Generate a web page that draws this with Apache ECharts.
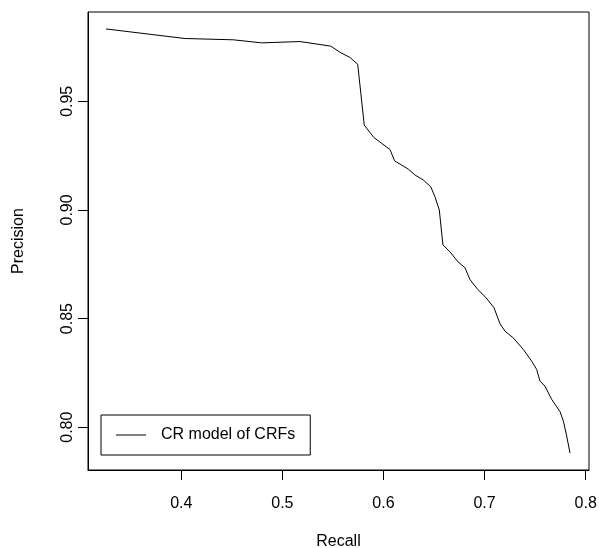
<!DOCTYPE html>
<html>
<head>
<meta charset="utf-8">
<script src="https://cdn.jsdelivr.net/npm/echarts@6/dist/echarts.min.js"></script>
<style>html,body{margin:0;padding:0;background:#fff}#c{width:599px;height:548px}</style>
</head>
<body>
<div id="c"></div>
<script>
var seriesName = 'CR model of CRFs';
var recall = [0.3255,0.4036,0.4514,0.4795,0.5174,0.5478,0.5579,0.5668,0.5745,0.5810,0.5906,0.6064,0.6110,0.6245,0.6311,0.6393,0.6467,0.6509,0.6552,0.6588,0.6658,0.6737,0.6806,0.6856,0.6935,0.7014,0.7093,0.7152,0.7202,0.7284,0.7383,0.7466,0.7515,0.7548,0.7597,0.7664,0.7746,0.7779,0.7812,0.7845];
var precision = [0.9833,0.9789,0.9783,0.9769,0.9775,0.9754,0.9723,0.9702,0.9670,0.9390,0.9333,0.9278,0.9226,0.9188,0.9161,0.9138,0.9107,0.9061,0.9000,0.8839,0.8807,0.8761,0.8734,0.8679,0.8633,0.8596,0.8550,0.8477,0.8442,0.8411,0.8358,0.8304,0.8266,0.8212,0.8189,0.8128,0.8072,0.8029,0.7960,0.7881];
var xTicks = [0.4,0.5,0.6,0.7,0.8];
var yTicks = [0.80,0.85,0.90,0.95];
var xTickLabels = ['0.4','0.5','0.6','0.7','0.8'];
var yTickLabels = ['0.80','0.85','0.90','0.95'];

var font = '"Liberation Sans", Arial, sans-serif';
var chart = echarts.init(document.getElementById('c'), null, {renderer:'canvas'});
var pts = recall.map(function(r,i){return [r, precision[i]];});
chart.setOption({
  animation:false,
  backgroundColor:'#fff',
  grid:{left:88,right:10,top:12,bottom:78,show:true,borderColor:'#000',borderWidth:1,backgroundColor:'transparent',
    containLabel:false,outerBoundsMode:'none'},
  xAxis:{type:'value',min:0.3077,max:0.8033,name:'Recall',nameLocation:'middle',nameGap:64,
    nameTextStyle:{fontFamily:font,fontSize:16,color:'#000'},
    axisLine:{show:true,lineStyle:{color:'#000',width:1}},
    axisTick:{show:true,inside:false,length:10,customValues:xTicks,lineStyle:{color:'#000'}},
    axisLabel:{show:true,margin:26,customValues:xTicks,fontFamily:font,fontSize:16,color:'#000',
      formatter:function(v){var i=xTicks.indexOf(v);return i>=0?xTickLabels[i]:'';}},
    splitLine:{show:false}},
  yAxis:{type:'value',min:0.7803,max:0.9911,name:'Precision',nameLocation:'middle',nameGap:61,nameRotate:90,
    nameTextStyle:{fontFamily:font,fontSize:16,color:'#000'},
    axisLine:{show:true,lineStyle:{color:'#000',width:1}},
    axisTick:{show:true,inside:false,length:10,customValues:yTicks,lineStyle:{color:'#000'}},
    axisLabel:{show:true,margin:12,rotate:90,customValues:yTicks,fontFamily:font,fontSize:16,color:'#000',
      formatter:function(v){for(var i=0;i<yTicks.length;i++){if(Math.abs(yTicks[i]-v)<1e-9)return yTickLabels[i];}return '';}},
    splitLine:{show:false}},
  legend:{show:true,left:101,top:415,orient:'horizontal',borderColor:'#000',borderWidth:1,
    padding:[12,15,12,15],itemWidth:30,itemHeight:1,icon:'rect',
    textStyle:{fontFamily:font,fontSize:16,color:'#000',padding:[0,0,0,10]},
    data:[{name:seriesName,itemStyle:{color:'#000'}}]},
  series:[{type:'line',name:seriesName,data:pts,showSymbol:false,symbol:'none',
    lineStyle:{color:'#000',width:1},itemStyle:{color:'#000'}}]
});
</script>
</body>
</html>
